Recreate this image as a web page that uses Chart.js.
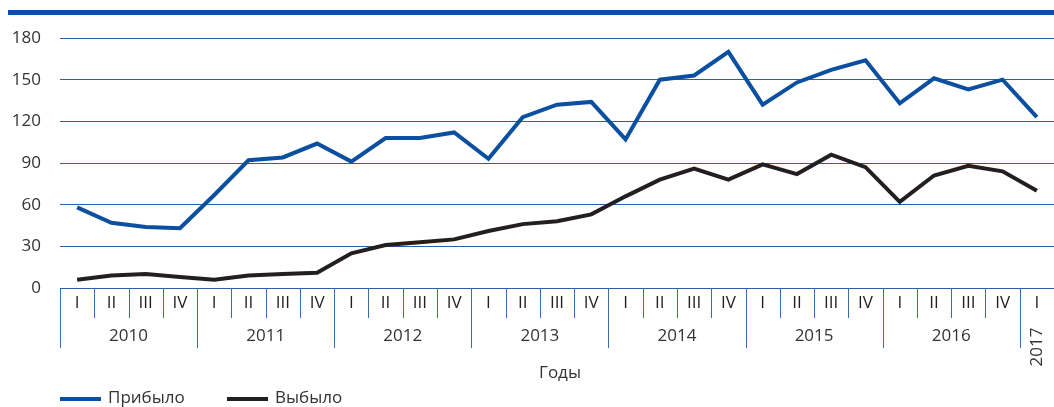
<!DOCTYPE html>
<html lang="ru">
<head>
<meta charset="utf-8">
<script src="https://cdn.jsdelivr.net/npm/chart.js@4.4.1/dist/chart.umd.min.js"></script>
<style>
    html, body { margin: 0; padding: 0; background: #fff; }
    #wrap { position: relative; width: 1054px; height: 407px; }
</style>
</head>
<body>
<div id="wrap"><canvas id="mainChart"></canvas></div>
<script>
// данные графика
const quarters = ['I', 'II', 'III', 'IV', 'I', 'II', 'III', 'IV', 'I', 'II', 'III', 'IV',
    'I', 'II', 'III', 'IV', 'I', 'II', 'III', 'IV', 'I', 'II', 'III', 'IV',
    'I', 'II', 'III', 'IV', 'I'];
const years = ['2010', '2011', '2012', '2013', '2014', '2015', '2016', '2017'];
const arrived = [58, 47, 44, 43, 67, 92, 94, 104, 91, 108, 108, 112, 93, 123, 132, 134,
    107, 150, 153, 170, 132, 148, 157, 164, 133, 151, 143, 150, 123];
const departed = [6, 9, 10, 8, 6, 9, 10, 11, 25, 31, 33, 35, 41, 46, 48, 53,
    66, 78, 86, 78, 89, 82, 96, 87, 62, 81, 88, 84, 70];
const seriesNames = ['Прибыло', 'Выбыло'];
const axisTitle = 'Годы';
const yMin = 0, yMax = 180, yStep = 30;

const BLUE = '#0b4fa0';
const BLACK = '#231f20';
const GRID = '#2a5ea8';
const FONT = "'Open Sans', 'Noto Sans', sans-serif";

// подписи оси X (кварталы, годы), верхняя полоса и легенда
const decorPlugin = {
    id: 'decor',
    beforeDraw(chart) {
        const c = chart.ctx;
        c.save();
        c.fillStyle = BLUE;
        c.fillRect(8, 10, chart.width - 8, 5);
        c.restore();
    },
    afterDraw(chart) {
        const c = chart.ctx;
        const x = chart.scales.x;
        const area = chart.chartArea;
        const w = x.getPixelForValue(1) - x.getPixelForValue(0);
        const y0 = area.bottom;

        c.save();
        c.strokeStyle = '#3a6cb4';
        c.lineWidth = 1;
        for (let k = 0; k < quarters.length; k++) {
            const bx = Math.round(x.getPixelForValue(k) - w / 2) + 0.5;
            const long = k % 4 === 0;
            c.beginPath();
            c.moveTo(bx, y0);
            c.lineTo(bx, y0 + (long ? 60 : 30));
            c.stroke();
        }

        c.fillStyle = BLACK;
        c.font = '17px ' + FONT;
        c.textAlign = 'center';
        c.textBaseline = 'middle';
        quarters.forEach((q, i) => c.fillText(q, x.getPixelForValue(i), y0 + 15));

        c.fillStyle = '#333';
        years.forEach((yr, j) => {
            const first = j * 4;
            const last = Math.min(first + 3, quarters.length - 1);
            const cx = (x.getPixelForValue(first) + x.getPixelForValue(last)) / 2;
            if (first === last) {
                c.save();
                c.translate(cx, y0 + 59);
                c.rotate(-Math.PI / 2);
                c.fillText(yr, 0, 0);
                c.restore();
            } else {
                c.fillText(yr, cx, y0 + 48);
            }
        });

        c.fillText(axisTitle, (area.left + area.right) / 2 + 3, y0 + 85);

        // легенда
        const items = chart.data.datasets;
        const starts = [60, 227];
        c.textAlign = 'left';
        items.forEach((ds, i) => {
            const lx = starts[i];
            c.strokeStyle = ds.borderColor;
            c.lineWidth = 4;
            c.beginPath();
            c.moveTo(lx, 399);
            c.lineTo(lx + 41, 399);
            c.stroke();
            c.fillStyle = '#333';
            c.fillText(ds.label, lx + 48, 398);
        });
        c.restore();
    }
};

const ctx = document.getElementById('mainChart').getContext('2d');
new Chart(ctx, {
    type: 'line',
    data: {
        labels: quarters,
        datasets: [
            {
                label: seriesNames[0],
                data: arrived,
                borderColor: BLUE,
                backgroundColor: BLUE,
                borderWidth: 4,
                pointRadius: 0,
                tension: 0,
                borderJoinStyle: 'miter'
            },
            {
                label: seriesNames[1],
                data: departed,
                borderColor: BLACK,
                backgroundColor: BLACK,
                borderWidth: 4,
                pointRadius: 0,
                tension: 0,
                borderJoinStyle: 'miter'
            }
        ]
    },
    options: {
        responsive: true,
        maintainAspectRatio: false,
        animation: false,
        layout: { padding: { top: 38, left: 0, right: 0, bottom: 0 } },
        plugins: {
            legend: { display: false },
            tooltip: { enabled: false }
        },
        scales: {
            x: {
                offset: true,
                grid: { display: false },
                border: { display: false },
                ticks: { display: false },
                afterFit(scale) { scale.height = 119; }
            },
            y: {
                min: yMin,
                max: yMax,
                ticks: {
                    stepSize: yStep,
                    padding: 19,
                    color: '#333',
                    font: { family: FONT, size: 17 }
                },
                grid: { color: GRID, lineWidth: 1, drawTicks: false },
                border: { display: false },
                afterFit(scale) { scale.width = 60; }
            }
        }
    },
    plugins: [decorPlugin]
});
</script>
</body>
</html>
